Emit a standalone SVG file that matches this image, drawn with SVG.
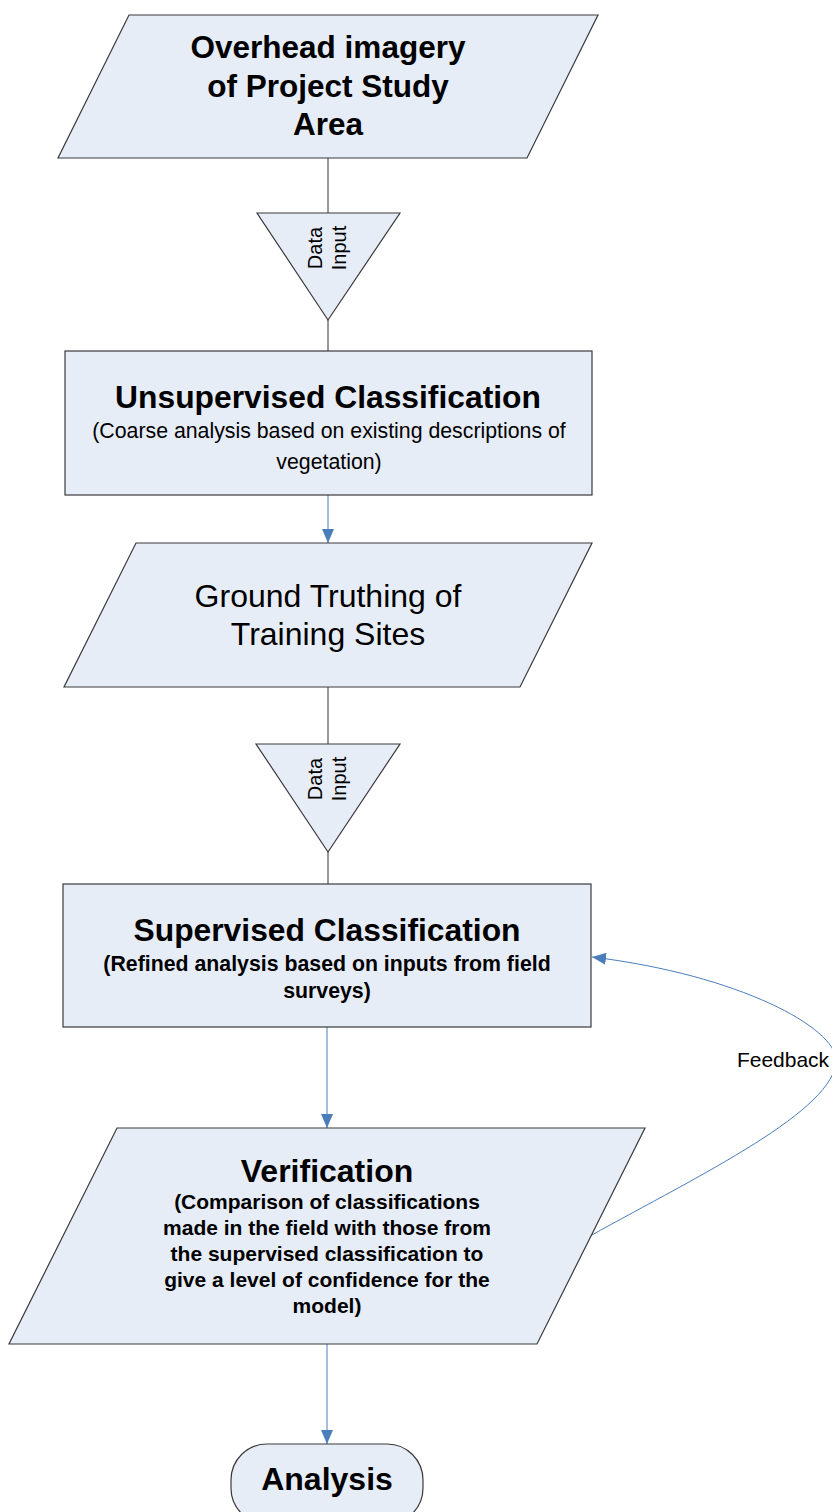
<svg xmlns="http://www.w3.org/2000/svg" width="832" height="1512" viewBox="0 0 832 1512">
<defs>
<style>
.shape{fill:#e7edf7;stroke:#3a3a3a;stroke-width:1.2}
.t{font-family:"Liberation Sans",Arial,sans-serif;fill:#000;text-anchor:middle}
.b{font-weight:bold}
.plain{stroke:#333;stroke-width:1;fill:none}
.blue{stroke:#4a7ebb;stroke-width:1;fill:none}
</style>
<marker id="arr" viewBox="0 0 14 12" refX="14" refY="6" markerWidth="14" markerHeight="12" markerUnits="userSpaceOnUse" orient="auto">
<path d="M0,0 L14,6 L0,12 Z" fill="#4a7ebb"/>
</marker>
</defs>
<rect width="832" height="1512" fill="#fff"/>
<g id="connectors">
<line class="plain" x1="328" y1="158" x2="328" y2="213"/>
<line class="plain" x1="328" y1="320" x2="328" y2="351"/>
<line class="blue" x1="328" y1="495" x2="328" y2="543" marker-end="url(#arr)"/>
<line class="plain" x1="328" y1="687" x2="328" y2="744"/>
<line class="plain" x1="328" y1="852" x2="328" y2="884"/>
<line class="blue" x1="327" y1="1027" x2="327" y2="1128" marker-end="url(#arr)"/>
<line class="blue" x1="327" y1="1344" x2="327" y2="1444" marker-end="url(#arr)"/>
<path class="blue" d="M590,1236 C700,1175 836,1110 836,1060 C836,1028 740,975 592,957" marker-end="url(#arr)"/>
<text class="t" x="783" y="1067" font-size="21">Feedback</text>
</g>
<g id="overhead">
<polygon class="shape" points="129,15 598,15 527,158 58,158"/>
<text class="t b" x="328" y="58" font-size="31.5">Overhead imagery</text>
<text class="t b" x="328" y="97" font-size="31.5">of Project Study</text>
<text class="t b" x="328" y="135" font-size="31.5">Area</text>
</g>
<g id="datainput1">
<polygon class="shape" points="257,213 400,213 328,320"/>
<text class="t" font-size="20" transform="translate(322,248) rotate(-90)">Data</text>
<text class="t" font-size="20" transform="translate(346,248) rotate(-90)">Input</text>
</g>
<g id="unsupervised">
<rect class="shape" x="65" y="351" width="527" height="144"/>
<text class="t b" x="328" y="408" font-size="31.8">Unsupervised Classification</text>
<text class="t" x="329" y="438" font-size="21.3">(Coarse analysis based on existing descriptions of</text>
<text class="t" x="329" y="469" font-size="21.3">vegetation)</text>
</g>
<g id="groundtruth">
<polygon class="shape" points="136,543 592,543 520,687 64,687"/>
<text class="t" x="328" y="607" font-size="32">Ground Truthing of</text>
<text class="t" x="328" y="645" font-size="32">Training Sites</text>
</g>
<g id="datainput2">
<polygon class="shape" points="256,744 400,744 328,852"/>
<text class="t" font-size="20" transform="translate(322,779) rotate(-90)">Data</text>
<text class="t" font-size="20" transform="translate(346,779) rotate(-90)">Input</text>
</g>
<g id="supervised">
<rect class="shape" x="63" y="884" width="528" height="143"/>
<text class="t b" x="327" y="941" font-size="31.8">Supervised Classification</text>
<text class="t b" x="327" y="971" font-size="21.3">(Refined analysis based on inputs from field</text>
<text class="t b" x="327" y="998" font-size="21.3">surveys)</text>
</g>
<g id="verification">
<polygon class="shape" points="117,1128 645,1128 537,1344 9,1344"/>
<text class="t b" x="327" y="1182" font-size="32">Verification</text>
<text class="t b" x="327" y="1209" font-size="21">(Comparison of classifications</text>
<text class="t b" x="327" y="1235" font-size="21">made in the field with those from</text>
<text class="t b" x="327" y="1261" font-size="21">the supervised classification to</text>
<text class="t b" x="327" y="1287" font-size="21">give a level of confidence for the</text>
<text class="t b" x="327" y="1313" font-size="21">model)</text>
</g>
<g id="analysis">
<rect class="shape" x="231" y="1444" width="192" height="80" rx="36" ry="36"/>
<text class="t b" x="327" y="1490" font-size="32">Analysis</text>
</g>
</svg>
